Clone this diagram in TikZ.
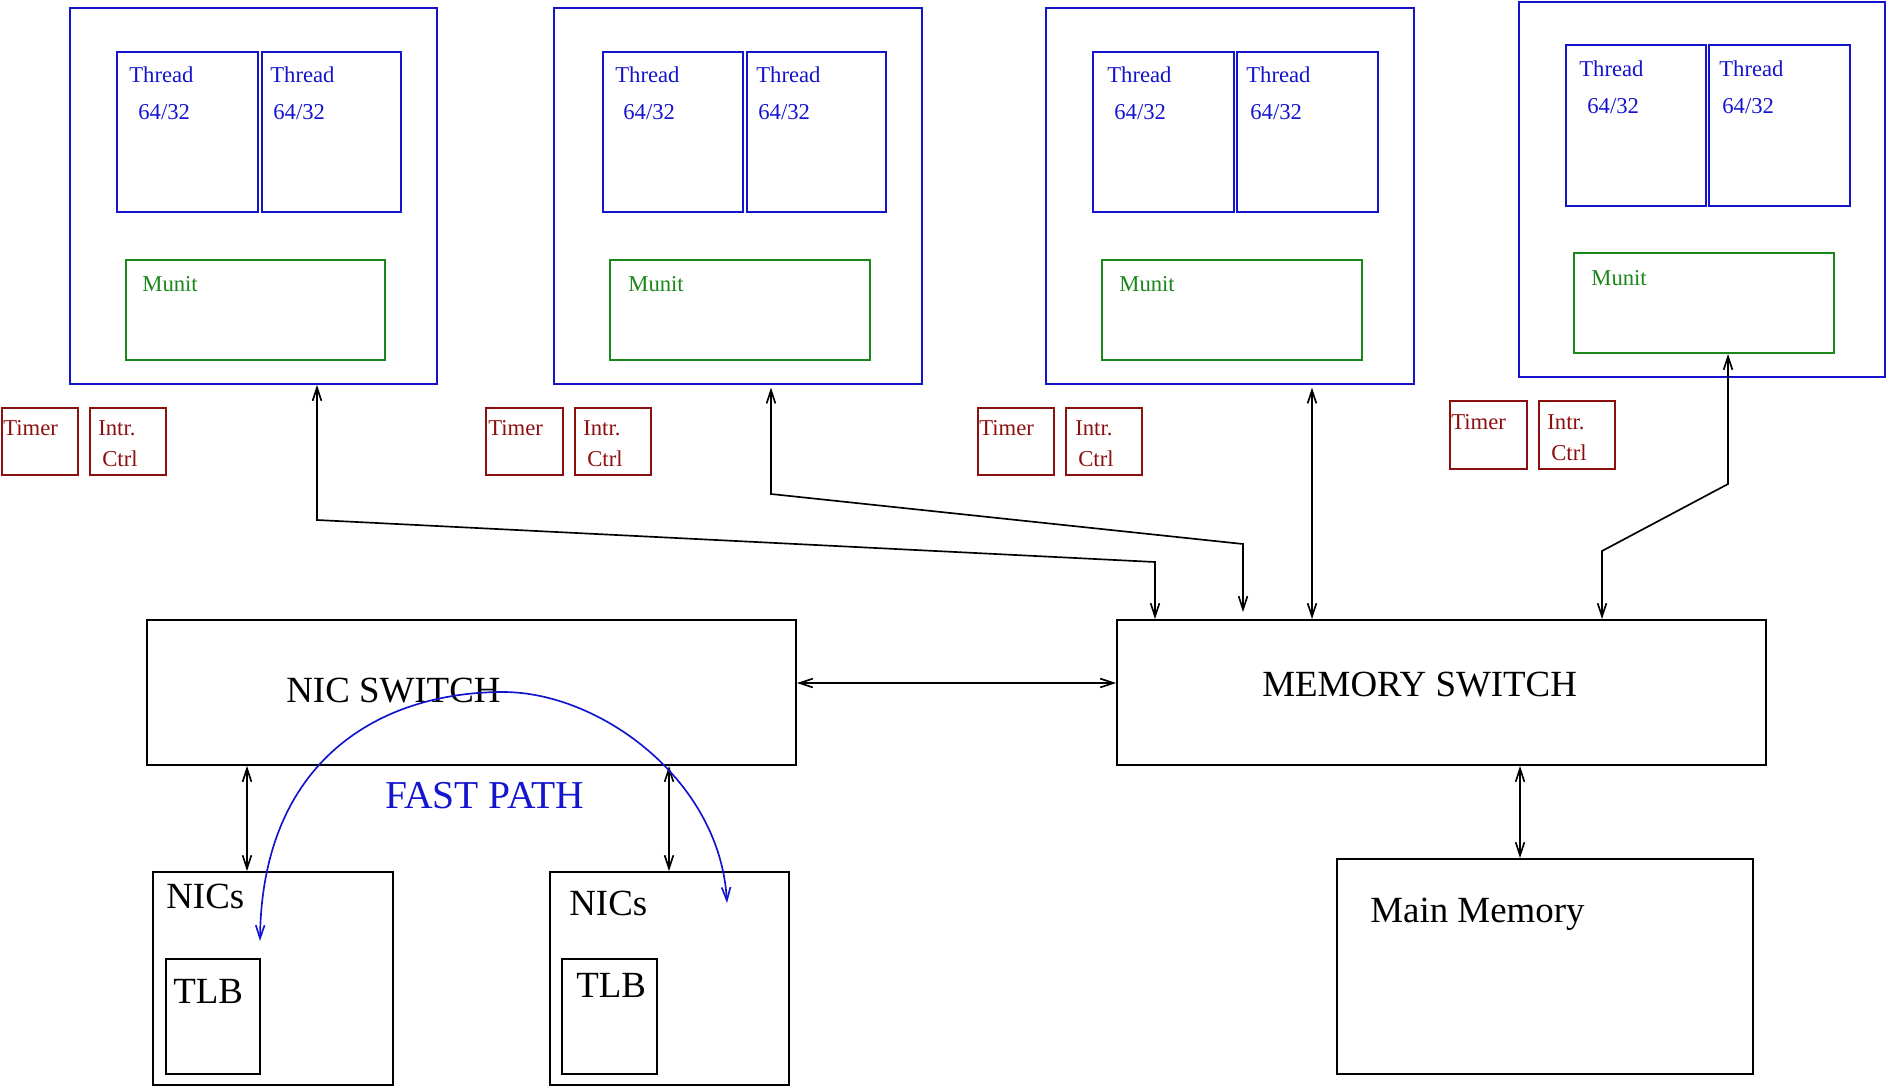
\documentclass[tikz,border=0pt]{standalone}
\usepackage{fontspec}
\setmainfont{Liberation Serif}
\usetikzlibrary{arrows.meta,fit,calc}
\definecolor{coreblue}{RGB}{20,20,205}
\definecolor{munitgreen}{RGB}{25,135,25}
\definecolor{ctrlred}{RGB}{140,15,15}
\tikzset{>={Straight Barb[length=7.5pt,width=5pt]},
	blackbox/.style={draw=black,line width=1.1pt,inner sep=0pt},
	corebox/.style={draw=coreblue,line width=1.1pt,inner sep=0pt},
	munitbox/.style={draw=munitgreen,line width=1.1pt,inner sep=0pt},
	ctrlbox/.style={draw=ctrlred,line width=1.1pt,inner sep=0pt},
	smalltext/.style={anchor=base west,inner sep=0pt,font=\fontsize{12.9}{15}\selectfont},
	bigtext/.style={anchor=base west,inner sep=0pt,font=\fontsize{21}{25}\selectfont},
	link/.style={<->,line width=0.95pt}}
\begin{document}
\begin{tikzpicture}[x=0.02cm,y=-0.02cm]
		\useasboundingbox (0,0) rectangle (1888,1088);
		% core 1
		\node[corebox,fit={(70,8) (437,384)}] (C1) {};
		\node[corebox,fit={(117,52) (258,212)}] (T11) {};
		\node[corebox,fit={(262,52) (401,212)}] (T12) {};
		\node[munitbox,fit={(126,260) (385,360)}] (M1) {};
		\node[ctrlbox,fit={(2,408) (78,475)}] (Tm1) {};
		\node[ctrlbox,fit={(90,408) (166,475)}] (I1) {};
		\node[smalltext,text=coreblue] at (129,83) {Thread};
		\node[smalltext,text=coreblue] at (138,119) {64/32};
		\node[smalltext,text=coreblue] at (270,83) {Thread};
		\node[smalltext,text=coreblue] at (273,119) {64/32};
		\node[smalltext,text=munitgreen] at (142,291) {Munit};
		\node[smalltext,text=ctrlred] at (3,435) {Timer};
		\node[smalltext,text=ctrlred] at (98,435) {Intr.};
		\node[smalltext,text=ctrlred] at (102,466) {Ctrl};
		% core 2
		\node[corebox,fit={(554,8) (922,384)}] (C2) {};
		\node[corebox,fit={(603,52) (743,212)}] (T21) {};
		\node[corebox,fit={(747,52) (886,212)}] (T22) {};
		\node[munitbox,fit={(610,260) (870,360)}] (M2) {};
		\node[ctrlbox,fit={(486,408) (563,475)}] (Tm2) {};
		\node[ctrlbox,fit={(575,408) (651,475)}] (I2) {};
		\node[smalltext,text=coreblue] at (615,83) {Thread};
		\node[smalltext,text=coreblue] at (623,119) {64/32};
		\node[smalltext,text=coreblue] at (756,83) {Thread};
		\node[smalltext,text=coreblue] at (758,119) {64/32};
		\node[smalltext,text=munitgreen] at (628,291) {Munit};
		\node[smalltext,text=ctrlred] at (488,435) {Timer};
		\node[smalltext,text=ctrlred] at (583,435) {Intr.};
		\node[smalltext,text=ctrlred] at (587,466) {Ctrl};
		% core 3
		\node[corebox,fit={(1046,8) (1414,384)}] (C3) {};
		\node[corebox,fit={(1093,52) (1234,212)}] (T31) {};
		\node[corebox,fit={(1237,52) (1378,212)}] (T32) {};
		\node[munitbox,fit={(1102,260) (1362,360)}] (M3) {};
		\node[ctrlbox,fit={(978,408) (1054,475)}] (Tm3) {};
		\node[ctrlbox,fit={(1066,408) (1142,475)}] (I3) {};
		\node[smalltext,text=coreblue] at (1107,83) {Thread};
		\node[smalltext,text=coreblue] at (1114,119) {64/32};
		\node[smalltext,text=coreblue] at (1246,83) {Thread};
		\node[smalltext,text=coreblue] at (1250,119) {64/32};
		\node[smalltext,text=munitgreen] at (1119,291) {Munit};
		\node[smalltext,text=ctrlred] at (979,435) {Timer};
		\node[smalltext,text=ctrlred] at (1075,435) {Intr.};
		\node[smalltext,text=ctrlred] at (1078,466) {Ctrl};
		% core 4
		\node[corebox,fit={(1519,2) (1885,377)}] (C4) {};
		\node[corebox,fit={(1566,45) (1706,206)}] (T41) {};
		\node[corebox,fit={(1709,45) (1850,206)}] (T42) {};
		\node[munitbox,fit={(1574,253) (1834,353)}] (M4) {};
		\node[ctrlbox,fit={(1450,401) (1527,469)}] (Tm4) {};
		\node[ctrlbox,fit={(1539,401) (1615,469)}] (I4) {};
		\node[smalltext,text=coreblue] at (1579,77) {Thread};
		\node[smalltext,text=coreblue] at (1587,113) {64/32};
		\node[smalltext,text=coreblue] at (1719,77) {Thread};
		\node[smalltext,text=coreblue] at (1722,113) {64/32};
		\node[smalltext,text=munitgreen] at (1591,285) {Munit};
		\node[smalltext,text=ctrlred] at (1451,429) {Timer};
		\node[smalltext,text=ctrlred] at (1547,429) {Intr.};
		\node[smalltext,text=ctrlred] at (1551,460) {Ctrl};
		% switches, nics, memory
		\node[blackbox,fit={(147,620) (796,765)}] (NS) {};
		\node[blackbox,fit={(1117,620) (1766,765)}] (MS) {};
		\node[blackbox,fit={(153,872) (393,1085)}] (N1) {};
		\node[blackbox,fit={(166,959) (260,1074)}] (TLB1) {};
		\node[blackbox,fit={(550,872) (789,1085)}] (N2) {};
		\node[blackbox,fit={(562,959) (657,1074)}] (TLB2) {};
		\node[blackbox,fit={(1337,859) (1753,1074)}] (MM) {};
		\node[bigtext] at (286,702) {NIC SWITCH};
		\node[bigtext] at (1262,696) {MEMORY SWITCH};
		\node[bigtext] at (166,908) {NICs};
		\node[bigtext] at (569,915) {NICs};
		\node[bigtext] at (173,1003) {TLB};
		\node[bigtext] at (576,997) {TLB};
		\node[bigtext] at (1370,922) {Main Memory};
		\node[bigtext,text=coreblue,font=\fontsize{22.5}{26}\selectfont] at (385,808) {FAST PATH};
		% links
		\coordinate (a1) at (317,520);
		\coordinate (b1) at (1155,562);
		\coordinate (a2) at (771,494);
		\coordinate (b2) at (1243,544);
		\coordinate (a3) at (1312,500);
		\coordinate (a4) at (1728,484);
		\coordinate (b4) at (1602,551);
		\coordinate (a5) at (950,683);
		\coordinate (a6) at (247,820);
		\coordinate (a7) at (669,820);
		\coordinate (a8) at (1520,810);
		\draw[link] (a1 |- C1.south) -- (a1) -- (b1) -- (b1 |- MS.north);
		\draw[link,shorten <=1.5pt,shorten >=4pt] (a2 |- C2.south) -- (a2) -- (b2) -- (b2 |- MS.north);
		\draw[link,shorten <=1.5pt] (a3 |- C3.south) -- (a3 |- MS.north);
		\draw[link] (a4 |- M4.south) -- (a4) -- (b4) -- (b4 |- MS.north);
		\draw[link] (a5 -| NS.east) -- (a5 -| MS.west);
		\draw[link] (a6 |- NS.south) -- (a6 |- N1.north);
		\draw[link] (a7 |- NS.south) -- (a7 |- N2.north);
		\draw[link] (a8 |- MS.south) -- (a8 |- MM.north);
		% fast path
		\coordinate (fpl) at (260,941);
		\coordinate (fp) at (503,692);
		\coordinate (fpr) at (727,903);
		\draw[link,coreblue] (fpl) .. controls (262,760) and (380,692) .. (fp) .. controls (600,692) and (720,780) .. (fpr);
\end{tikzpicture}
\end{document}
